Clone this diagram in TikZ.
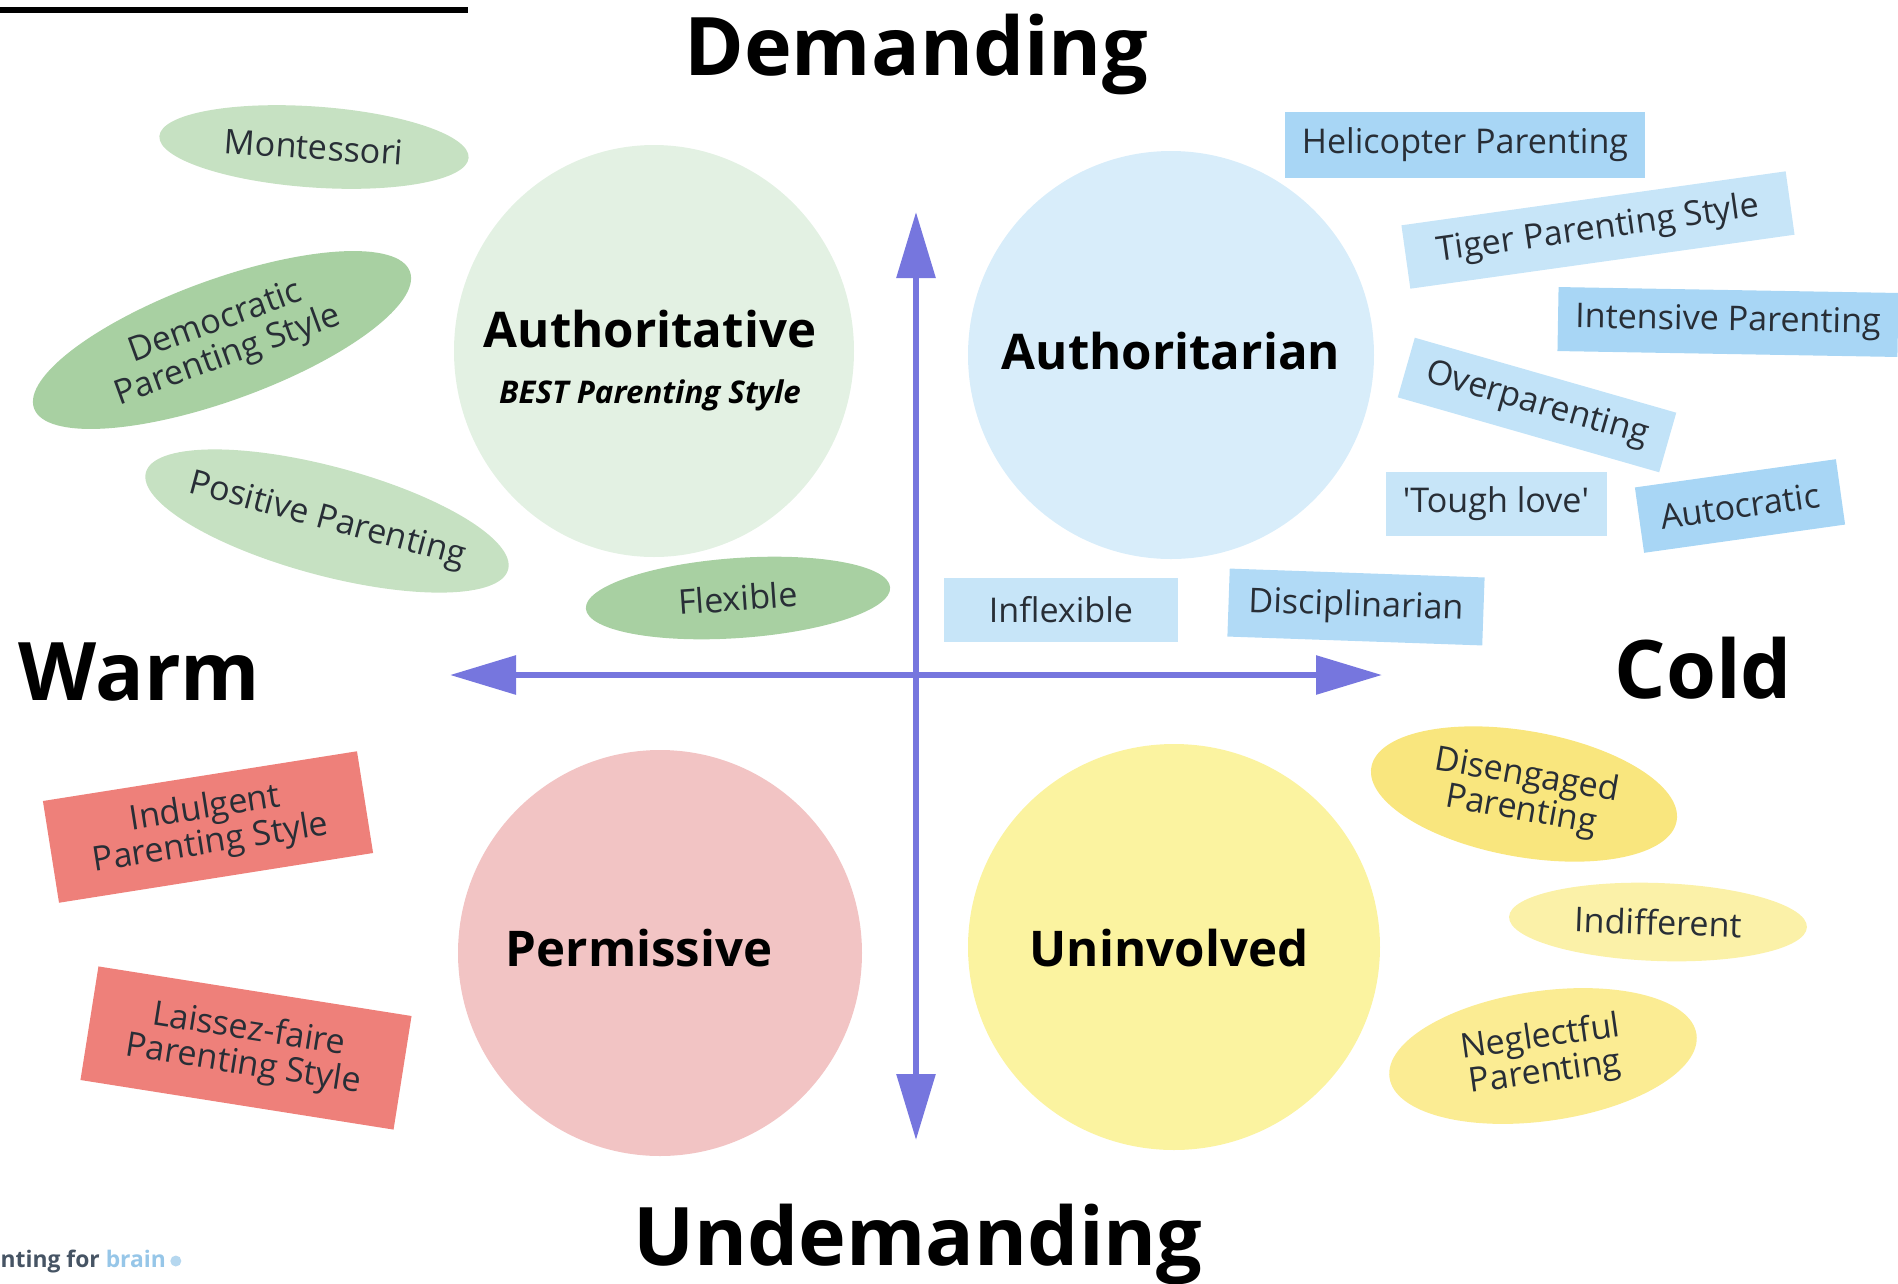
\documentclass[tikz,border=0pt]{standalone}
\usepackage{fontspec}
\setmainfont{Open Sans}
\usepackage{tikz}
\usetikzlibrary{arrows.meta, shapes.geometric, positioning}

\definecolor{axisblue}{RGB}{118,118,222}
\definecolor{labeltext}{RGB}{40,46,54}
\definecolor{blobgreen}{RGB}{227,241,227}
\definecolor{blobblue}{RGB}{216,237,250}
\definecolor{blobpink}{RGB}{242,196,196}
\definecolor{blobyellow}{RGB}{251,243,160}
\definecolor{greendark}{RGB}{168,208,162}
\definecolor{greenlight}{RGB}{198,225,194}
\definecolor{bluedark}{RGB}{168,214,245}
\definecolor{bluelight}{RGB}{199,229,248}
\definecolor{coral}{RGB}{238,128,122}
\definecolor{yellowdark}{RGB}{249,230,126}
\definecolor{yellowmid}{RGB}{251,236,147}
\definecolor{yellowlight}{RGB}{251,241,168}
\definecolor{logogray}{RGB}{70,84,100}
\definecolor{logoblue}{RGB}{150,198,232}

\begin{document}
\begin{tikzpicture}[
    heading/.style={font=\fontsize{23}{27}\selectfont\bfseries, anchor=base, inner sep=0pt},
    stylename/.style={font=\fontsize{14}{17}\selectfont\bfseries, anchor=base, inner sep=0pt},
    blob/.style={ellipse, inner sep=0pt},
    tag/.style={font=\fontsize{9.7}{10}\selectfont, text=labeltext, align=center, inner sep=0pt},
    tagoval/.style={tag, ellipse, inner xsep=-0.4cm},
    tagbox/.style={tag, rectangle},
    axis/.style={draw=axisblue, line width=1.7pt, {Triangle[length=0.66cm, width=0.38cm]}-{Triangle[length=0.66cm, width=0.38cm]}}
]
\useasboundingbox (0,0) rectangle (18.98,-12.84);

% rule at the top left
\coordinate (rulea) at (0,-0.10);
\coordinate (ruleb) at (4.68,-0.10);
\draw[line width=0.06cm] (rulea) -- (ruleb);

% the four style blobs
\node[blob, fill=blobgreen, minimum width=4.00cm, minimum height=4.12cm] (authb) at (6.54,-3.51) {};
\node[blob, fill=blobblue, minimum width=4.06cm, minimum height=4.08cm] (tarianb) at (11.71,-3.55) {};
\node[blob, fill=blobpink, minimum width=4.04cm, minimum height=4.06cm] (permb) at (6.60,-9.53) {};
\node[blob, fill=blobyellow, minimum width=4.12cm, minimum height=4.06cm] (uninvb) at (11.74,-9.47) {};

\node[stylename] (auth) at (6.50,-3.47) {Authoritative};
\node[anchor=base, inner sep=0pt, font=\fontsize{8.9}{10}\selectfont\bfseries\itshape] (best) at (6.50,-4.03) {BEST Parenting Style};
\node[stylename] (tarian) at (11.71,-3.69) {Authoritarian};
\node[stylename] (perm) at (6.39,-9.66) {Permissive};
\node[stylename] (uninv) at (11.69,-9.66) {Uninvolved};

% axes
\coordinate (up) at (9.16,-2.12);
\coordinate (down) at (9.16,-11.40);
\coordinate (left) at (4.50,-6.75);
\coordinate (right) at (13.82,-6.75);
\draw[axis] (down) -- (up);
\draw[axis] (left) -- (right);

\node[heading] (dem) at (9.16,-0.75) {Demanding};
\node[heading] (undem) at (9.18,-12.65) {Undemanding};
\node[heading, anchor=base west] (warm) at (0.18,-7.00) {Warm};
\node[heading, anchor=base west] (cold) at (16.14,-6.98) {Cold};

% authoritative
\node[tagoval, fill=greenlight, minimum width=3.10cm, minimum height=0.81cm, rotate=-4] (montessori) at (3.14,-1.47) {Montessori};
\node[tagoval, fill=greendark, minimum width=4.00cm, minimum height=1.21cm, rotate=20] (democratic) at (2.22,-3.40) {Democratic\\Parenting Style};
\node[tagoval, fill=greenlight, minimum width=3.75cm, minimum height=1.09cm, rotate=-15] (positive) at (3.27,-5.21) {Positive Parenting};
\node[tagoval, fill=greendark, minimum width=3.05cm, minimum height=0.80cm, rotate=4] (flexible) at (7.38,-5.98) {Flexible};

% authoritarian
\node[tagbox, fill=bluedark, minimum width=3.60cm, minimum height=0.66cm] (heli) at (14.65,-1.45) {Helicopter Parenting};
\node[tagbox, fill=bluelight, minimum width=3.88cm, minimum height=0.64cm, rotate=8] (tiger) at (15.98,-2.30) {Tiger Parenting Style};
\node[tagbox, fill=bluedark, minimum width=3.40cm, minimum height=0.64cm, rotate=-1] (intensive) at (17.28,-3.22) {Intensive Parenting};
\node[tagbox, fill=bluelight!85!bluedark, minimum width=2.72cm, minimum height=0.62cm, rotate=-16] (over) at (15.37,-4.05) {Overparenting};
\node[tagbox, fill=bluelight, minimum width=2.21cm, minimum height=0.64cm] (tough) at (14.96,-5.04) {\textquotesingle Tough love\textquotesingle};
\node[tagbox, fill=bluedark, minimum width=2.03cm, minimum height=0.66cm, rotate=8] (autocratic) at (17.40,-5.06) {Autocratic};
\node[tagbox, fill=bluelight, minimum width=2.34cm, minimum height=0.64cm] (inflexible) at (10.61,-6.10) {Inflexible};
\node[tagbox, fill=bluedark!70!bluelight, minimum width=2.55cm, minimum height=0.68cm, rotate=-2] (discipl) at (13.56,-6.07) {Disciplinarian};

% permissive
\node[tagbox, fill=coral, minimum width=3.18cm, minimum height=1.03cm, rotate=9] (indulgent) at (2.08,-8.27) {Indulgent\\Parenting Style};
\node[tagbox, fill=coral, minimum width=3.17cm, minimum height=1.15cm, rotate=-9] (laissez) at (2.46,-10.48) {Laissez-faire\\Parenting Style};

% uninvolved
\node[tagoval, fill=yellowdark, minimum width=3.10cm, minimum height=1.26cm, rotate=-10] (diseng) at (15.24,-7.94) {Disengaged\\Parenting};
\node[tagoval, fill=yellowlight, minimum width=2.98cm, minimum height=0.78cm, rotate=-2] (indiff) at (16.58,-9.22) {Indifferent};
\node[tagoval, fill=yellowmid, minimum width=3.10cm, minimum height=1.30cm, rotate=8] (neglect) at (15.43,-10.56) {Neglectful\\Parenting};

% logo
\node[anchor=base west, inner sep=0pt, font=\fontsize{6.5}{8}\selectfont\bfseries, text=logogray] (logo) at (0,-12.67) {nting for \textcolor{logoblue}{brain}};
\node[circle, fill=logoblue!70, inner sep=0pt, minimum size=0.11cm, right=0.03cm of logo] (logodot) {};
\end{tikzpicture}
\end{document}
